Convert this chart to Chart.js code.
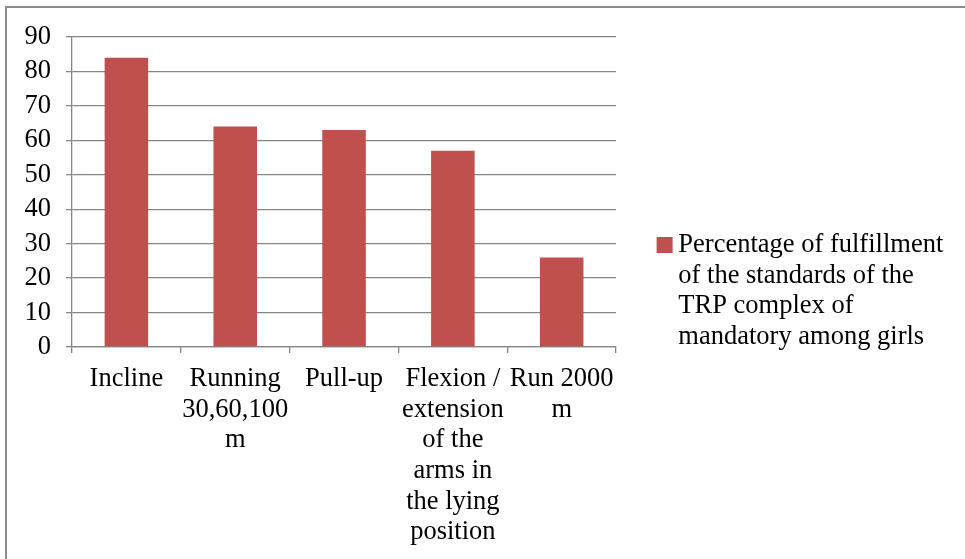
<!DOCTYPE html>
<html>
<head>
<meta charset="utf-8">
<script src="https://cdn.jsdelivr.net/npm/chart.js@4.4.1/dist/chart.umd.min.js"></script>
<style>
  body { margin: 0; background: #fff; overflow: hidden; }
  .frame { position: absolute; left: 5px; top: 6px; width: 1000px; height: 600px; border: 2px solid #8c8c8c; }
  #chart { position: absolute; left: 0; top: 0; }
</style>
</head>
<body>
<div class="frame"></div>
<canvas id="chart" width="965" height="559"></canvas>
<script>
// donnees du graphique
const categories = [
    ["Incline"],
    ["Running", "30,60,100", "m"],
    ["Pull-up"],
    ["Flexion /", "extension", "of the", "arms in", "the lying", "position"],
    ["Run 2000", "m"]
];
const values = [84, 64, 63, 57, 26];
const seriesLabel = ["Percentage of fulfillment", "of the standards of the", "TRP complex of", "mandatory among girls"];
const yMin = 0;
const yMax = 90;
const yStep = 10;

const serif = "'Liberation Serif', 'Times New Roman', serif";
const gridColor = '#868686';

let ctx = document.getElementById('chart');
let chart = new Chart(ctx, {
    type: 'bar',
    data: {
        labels: categories,
        datasets: [{
            label: seriesLabel,
            data: values,
            backgroundColor: '#C0504D',
            borderWidth: 0,
            barPercentage: 0.4,
            categoryPercentage: 1
        }]
    },
    options: {
        responsive: false,
        animation: false,
        devicePixelRatio: 1,
        layout: {
            padding: { top: 37, left: 0, right: 11.75, bottom: 10 }
        },
        scales: {
            x: {
                grid: { drawOnChartArea: false, drawTicks: true, tickLength: 6, color: gridColor, lineWidth: 1.3 },
                border: { color: gridColor, width: 1.3 },
                ticks: {
                    color: '#000',
                    maxRotation: 0,
                    autoSkip: false,
                    padding: 11,
                    font: { family: serif, size: 26.5, lineHeight: 1.155 }
                },
                afterFit: function(scale) { scale.height = 202; }
            },
            y: {
                min: yMin,
                max: yMax,
                grid: { color: gridColor, lineWidth: 1.3, tickLength: 6 },
                border: { color: gridColor, width: 1.3 },
                ticks: {
                    stepSize: yStep,
                    autoSkip: false,
                    color: '#000',
                    padding: 15,
                    font: { family: serif, size: 26.5 }
                },
                afterFit: function(scale) { scale.width = 72; }
            }
        },
        plugins: {
            tooltip: { enabled: false },
            legend: {
                position: 'right',
                maxWidth: 400,
                labels: {
                    color: '#000',
                    usePointStyle: true,
                    pointStyle: 'rect',
                    boxWidth: 1,
                    boxHeight: 16,
                    padding: 48,
                    font: { family: serif, size: 26.5, lineHeight: 1.155 }
                }
            }
        }
    }
});
</script>
</body>
</html>
